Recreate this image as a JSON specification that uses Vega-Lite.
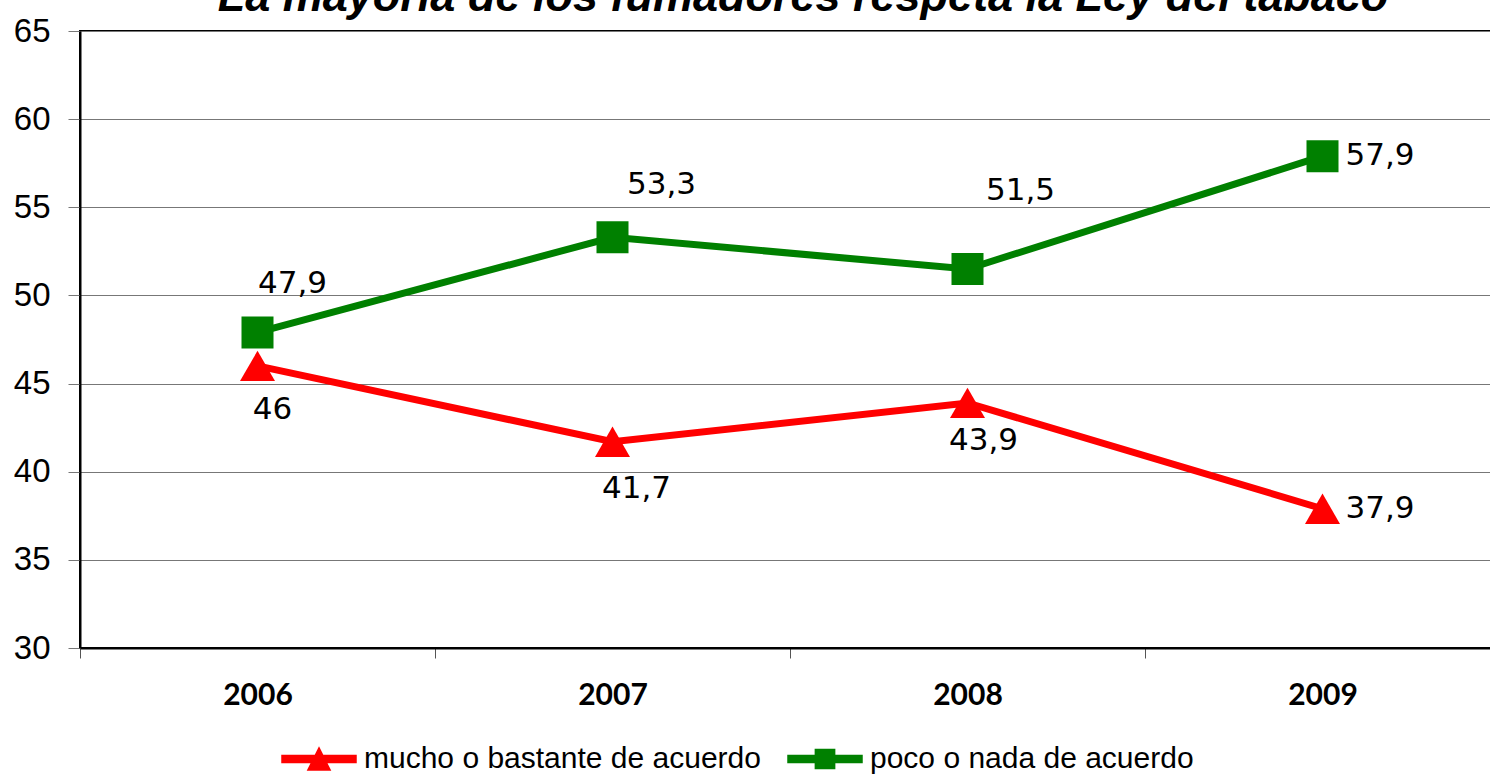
{
  "$schema": "https://vega.github.io/schema/vega-lite/v6.json",
  "autosize": {"type": "none"},
  "width": 1420,
  "height": 617,
  "padding": {"left": 80, "top": 31, "right": -10, "bottom": 130},
  "background": "white",
  "config": {
    "locale": {"number": {"decimal": ",", "thousands": ".", "grouping": [3], "currency": ["", " €"]}},
    "view": {"stroke": "black", "strokeWidth": 2}
  },
  "title": {
    "text": "La mayoría de los fumadores respeta la Ley del tabaco",
    "font": "Liberation Sans",
    "fontSize": 45,
    "fontStyle": "italic",
    "fontWeight": "bold",
    "color": "black",
    "anchor": "middle",
    "offset": 0,
    "dx": 13,
    "dy": 41,
    "baseline": "alphabetic"
  },
  "data": {
    "values": [
      {"series": "mucho o bastante de acuerdo", "year": "2006", "value": 46},
      {"series": "mucho o bastante de acuerdo", "year": "2007", "value": 41.7},
      {"series": "mucho o bastante de acuerdo", "year": "2008", "value": 43.9},
      {"series": "mucho o bastante de acuerdo", "year": "2009", "value": 37.9},
      {"series": "poco o nada de acuerdo", "year": "2006", "value": 47.9},
      {"series": "poco o nada de acuerdo", "year": "2007", "value": 53.3},
      {"series": "poco o nada de acuerdo", "year": "2008", "value": 51.5},
      {"series": "poco o nada de acuerdo", "year": "2009", "value": 57.9}
    ]
  },
  "encoding": {
    "x": {
      "field": "year",
      "type": "ordinal",
      "bandPosition": 0.5,
      "scale": {"type": "band", "paddingInner": 0, "paddingOuter": 0},
      "axis": {
        "title": null,
        "tickBand": "extent",
        "tickSize": 10,
        "tickColor": "#555555",
        "tickWidth": 1,
        "domainColor": "black",
        "domainWidth": 2,
        "labelFont": "Lato",
        "labelFontWeight": "bold",
        "labelFontSize": 30,
        "labelColor": "black",
        "labelPadding": 22,
        "labelAngle": 0,
        "grid": false
      }
    },
    "y": {
      "field": "value",
      "type": "quantitative",
      "scale": {"domain": [30, 65], "nice": false, "zero": false},
      "axis": {
        "values": [30, 35, 40, 45, 50, 55, 60, 65],
        "title": null,
        "grid": true,
        "gridColor": "#777777",
        "gridWidth": 1,
        "gridOpacity": 1,
        "domainColor": "black",
        "domainWidth": 2,
        "tickColor": "#777777",
        "tickSize": 12,
        "tickWidth": 1,
        "labelFont": "Liberation Sans",
        "labelFontSize": 33,
        "labelColor": "black",
        "labelPadding": 18
      }
    },
    "color": {
      "field": "series",
      "type": "nominal",
      "scale": {"domain": ["mucho o bastante de acuerdo", "poco o nada de acuerdo"], "range": ["#ff0000", "#008000"]},
      "legend": {
        "orient": "none",
        "legendX": 201,
        "legendY": 690,
        "direction": "horizontal",
        "title": null,
        "labelFont": "Liberation Sans",
        "labelFontSize": 30,
        "labelLimit": 600,
        "labelColor": "black",
        "symbolSize": 5476,
        "labelOffset": 7,
        "columnPadding": 24,
        "encode": {
          "symbols": {
            "update": {
              "shape": {"signal": "datum.value === 'mucho o bastante de acuerdo' ? 'M-1,-0.095H1V0.095H-1Z M0,-0.3L0.3,0.3H-0.3Z' : 'M-1,-0.095H1V0.095H-1Z M-0.26,-0.26H0.26V0.26H-0.26Z'"},
              "fill": {"scale": "color", "field": "value"},
              "stroke": {"value": "transparent"},
              "opacity": {"value": 1}
            }
          }
        }
      }
    }
  },
  "layer": [
    {"mark": {"type": "line", "strokeWidth": 7}},
    {
      "transform": [{"filter": "datum.series == 'mucho o bastante de acuerdo'"}],
      "mark": {"type": "point", "shape": "triangle-up", "filled": true, "size": 1225, "opacity": 1}
    },
    {
      "transform": [{"filter": "datum.series == 'poco o nada de acuerdo'"}],
      "mark": {"type": "point", "shape": "square", "filled": true, "size": 1024, "opacity": 1}
    },
    {
      "transform": [{"filter": "datum.series == 'poco o nada de acuerdo' && datum.year == '2006'"}],
      "mark": {"type": "text", "dx": 35, "dy": -48, "font": "DejaVu Sans", "fontSize": 31, "align": "center", "baseline": "middle"},
      "encoding": {"text": {"field": "value", "type": "quantitative", "format": ".3~r"}, "color": {"value": "black"}}
    },
    {
      "transform": [{"filter": "datum.series == 'poco o nada de acuerdo' && datum.year == '2007'"}],
      "mark": {"type": "text", "dx": 49, "dy": -52, "font": "DejaVu Sans", "fontSize": 31, "align": "center", "baseline": "middle"},
      "encoding": {"text": {"field": "value", "type": "quantitative", "format": ".3~r"}, "color": {"value": "black"}}
    },
    {
      "transform": [{"filter": "datum.series == 'poco o nada de acuerdo' && datum.year == '2008'"}],
      "mark": {"type": "text", "dx": 53, "dy": -78, "font": "DejaVu Sans", "fontSize": 31, "align": "center", "baseline": "middle"},
      "encoding": {"text": {"field": "value", "type": "quantitative", "format": ".3~r"}, "color": {"value": "black"}}
    },
    {
      "transform": [{"filter": "datum.year == '2009'"}],
      "mark": {"type": "text", "dx": 23, "dy": 0, "font": "DejaVu Sans", "fontSize": 31, "align": "left", "baseline": "middle"},
      "encoding": {"text": {"field": "value", "type": "quantitative", "format": ".3~r"}, "color": {"value": "black"}}
    },
    {
      "transform": [{"filter": "datum.series == 'mucho o bastante de acuerdo' && datum.year == '2006'"}],
      "mark": {"type": "text", "dx": 15, "dy": 44, "font": "DejaVu Sans", "fontSize": 31, "align": "center", "baseline": "middle"},
      "encoding": {"text": {"field": "value", "type": "quantitative", "format": ".3~r"}, "color": {"value": "black"}}
    },
    {
      "transform": [{"filter": "datum.series == 'mucho o bastante de acuerdo' && datum.year == '2007'"}],
      "mark": {"type": "text", "dx": 24, "dy": 47, "font": "DejaVu Sans", "fontSize": 31, "align": "center", "baseline": "middle"},
      "encoding": {"text": {"field": "value", "type": "quantitative", "format": ".3~r"}, "color": {"value": "black"}}
    },
    {
      "transform": [{"filter": "datum.series == 'mucho o bastante de acuerdo' && datum.year == '2008'"}],
      "mark": {"type": "text", "dx": 16, "dy": 38, "font": "DejaVu Sans", "fontSize": 31, "align": "center", "baseline": "middle"},
      "encoding": {"text": {"field": "value", "type": "quantitative", "format": ".3~r"}, "color": {"value": "black"}}
    }
  ]
}
